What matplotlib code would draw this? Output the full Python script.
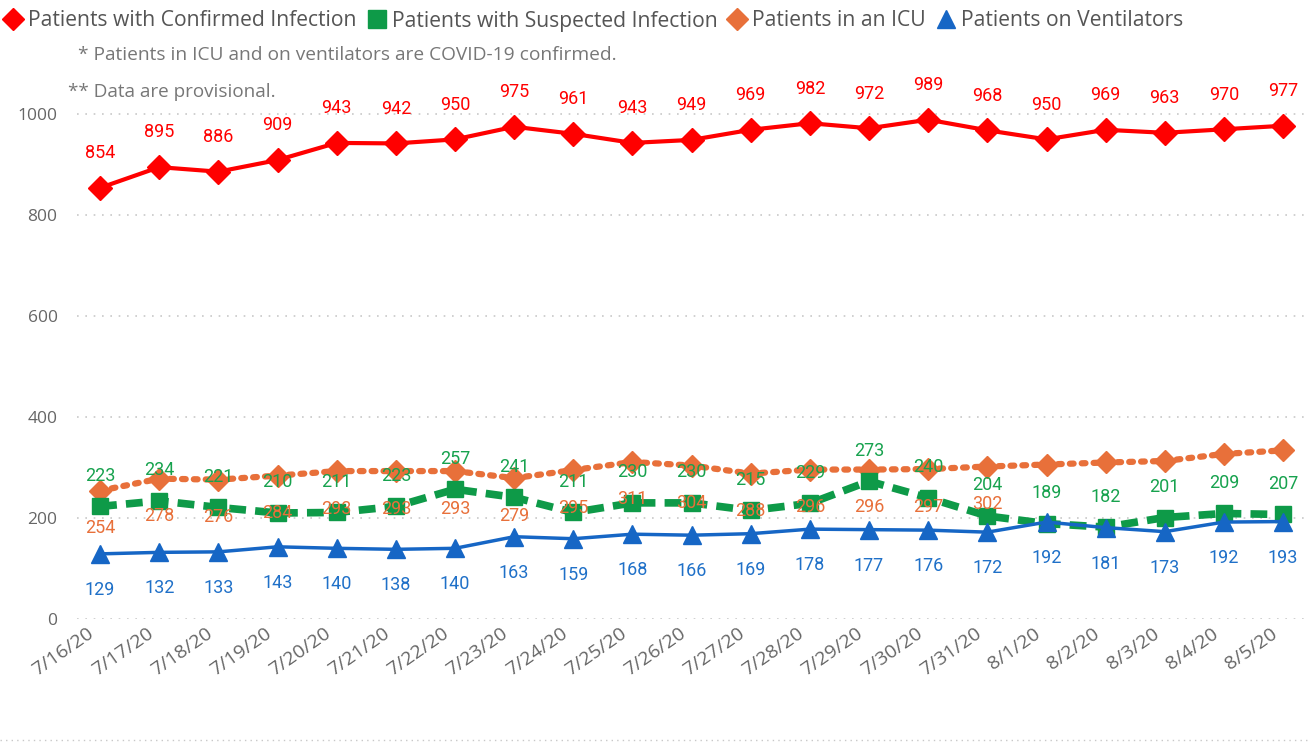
import matplotlib
matplotlib.use("Agg")
import matplotlib.pyplot as plt
import matplotlib.transforms as mtransforms
from matplotlib.lines import Line2D
import numpy as np

dates = ['7/16/20', '7/17/20', '7/18/20', '7/19/20', '7/20/20', '7/21/20', '7/22/20',
         '7/23/20', '7/24/20', '7/25/20', '7/26/20', '7/27/20', '7/28/20', '7/29/20',
         '7/30/20', '7/31/20', '8/1/20', '8/2/20', '8/3/20', '8/4/20', '8/5/20']
confirmed = [854, 895, 886, 909, 943, 942, 950, 975, 961, 943, 949,
             969, 982, 972, 989, 968, 950, 969, 963, 970, 977]
suspected = [223, 234, 221, 210, 211, 223, 257, 241, 211, 230, 230,
             215, 229, 273, 240, 204, 189, 182, 201, 209, 207]
icu = [254, 278, 276, 284, 293, 293, 293, 279, 295, 311, 304,
       288, 296, 296, 297, 302, 306, 310, 313, 327, 334]
icu_labeled = 16  # last five ICU points carry no label in the source
ventilators = [129, 132, 133, 143, 140, 138, 140, 163, 159, 168, 166,
               169, 178, 177, 176, 172, 192, 181, 173, 192, 193]

RED = '#FF0000'
GREEN = '#0E9A48'
ORANGE = '#E8703A'
BLUE = '#1666C5'
GRAY = '#666666'

plt.rcParams['font.family'] = ['Open Sans', 'DejaVu Sans']

fig = plt.figure(figsize=(13.11, 7.43), dpi=100)
ax = fig.add_axes([77 / 1311, (743 - 619) / 743, (1305 - 77) / 1311, (619 - 100) / 743])

x = np.arange(len(dates))

ax.plot(x, icu, color=ORANGE, lw=4.5, ls=(0, (0.6, 1.3)), dash_capstyle='round',
        marker='D', ms=11, zorder=3)
ax.plot(x, suspected, color=GREEN, lw=5.5, ls=(0, (2.2, 1.2)),
        marker='s', ms=11, zorder=4)
ax.plot(x, ventilators, color=BLUE, lw=2.5, marker='^', ms=13, zorder=5)
ax.plot(x, confirmed, color=RED, lw=3, marker='D', ms=12, zorder=6)

lab_font = dict(family=['Roboto', 'DejaVu Sans'], fontsize=13,
                ha='center', va='center')
for i in range(len(x)):
    ax.annotate(str(confirmed[i]), (x[i], confirmed[i]), xytext=(0, 25),
                textcoords='offset points', color=RED, zorder=7, **lab_font)
    ax.annotate(str(suspected[i]), (x[i], suspected[i]), xytext=(0, 22),
                textcoords='offset points', color='#17A24E', zorder=7, **lab_font)
    if i < icu_labeled:
        ax.annotate(str(icu[i]), (x[i], icu[i]), xytext=(0, -27),
                    textcoords='offset points', color=ORANGE, zorder=7, **lab_font)
    ax.annotate(str(ventilators[i]), (x[i], ventilators[i]), xytext=(0, -26),
                textcoords='offset points', color='#1F70C8', zorder=7, **lab_font)

ax.set_xlim(-0.39, 20.37)
ax.set_ylim(0, 1028)
ax.set_yticks([0, 200, 400, 600, 800, 1000])
ax.set_xticks(x)
ax.set_xticklabels(dates, rotation=35, ha='right', va='top', rotation_mode='anchor')
ax.tick_params(axis='y', length=0, labelsize=12.5, colors=GRAY, pad=14)
ax.tick_params(axis='x', length=0, labelsize=14, colors=GRAY, pad=4)
shift = mtransforms.ScaledTranslation(-13 / 100, 0, fig.dpi_scale_trans)
for lbl in ax.get_xticklabels():
    lbl.set_transform(lbl.get_transform() + shift)
ax.grid(axis='y', color='#C8C8C8', ls=(0, (1, 4)), lw=1.2)
ax.set_axisbelow(True)
for s in ax.spines.values():
    s.set_visible(False)

handles = [
    Line2D([], [], ls='none', marker='D', color=RED, ms=11),
    Line2D([], [], ls='none', marker='s', color=GREEN, ms=13),
    Line2D([], [], ls='none', marker='D', color=ORANGE, ms=11),
    Line2D([], [], ls='none', marker='^', color=BLUE, ms=13),
]
labels = ['Patients with Confirmed Infection', 'Patients with Suspected Infection',
          'Patients in an ICU', 'Patients on Ventilators']
fig.legend(handles, labels, loc='center left', bbox_to_anchor=(6 / 1311, 1 - 21 / 743),
           ncol=4, frameon=False, fontsize=15.2, handlelength=0.7, handletextpad=0.35,
           columnspacing=0.6, borderaxespad=0, borderpad=0, labelcolor='#555555')

fig.text(78 / 1311, 1 - 55 / 743, '* Patients in ICU and on ventilators are COVID-19 confirmed.',
         fontsize=13.8, color='#777777', va='center')
fig.text(68 / 1311, 1 - 92 / 743, '** Data are provisional.',
         fontsize=13.6, color='#777777', va='center')

fig.add_artist(Line2D([0, 1], [1 - 740 / 743] * 2, transform=fig.transFigure,
                      color='#C8C8C8', ls=(0, (1, 3)), lw=1))

fig.savefig('out.png', dpi=100)
